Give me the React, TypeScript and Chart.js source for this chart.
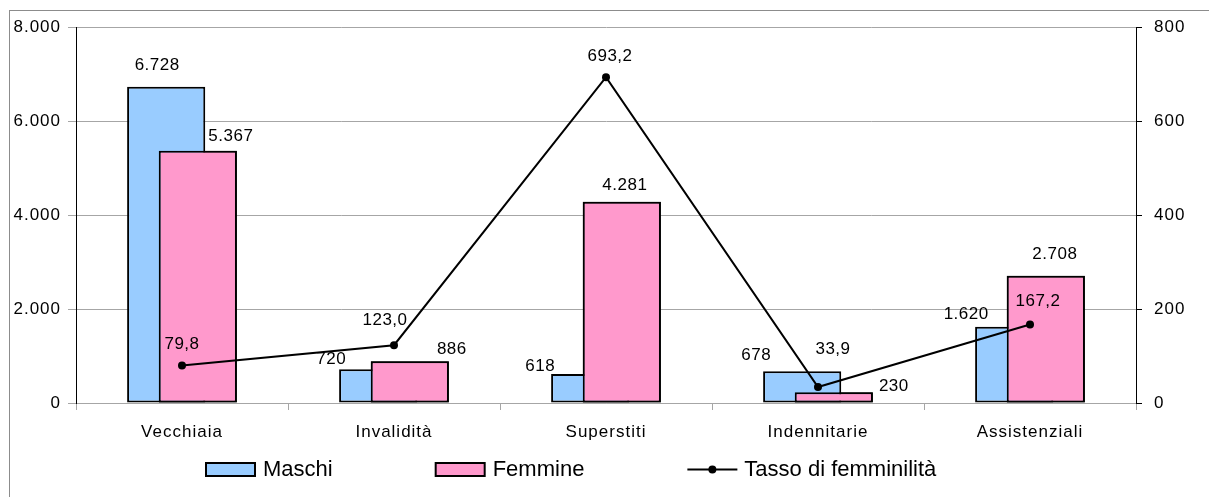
import React, { useEffect, useRef } from 'react';
import { Chart, registerables } from 'chart.js';

Chart.register(...registerables);

// ---- Data ----
const categories = ['Vecchiaia', 'Invalidità', 'Superstiti', 'Indennitarie', 'Assistenziali'];
const maschi = [6728, 720, 618, 678, 1620];
const femmine = [5367, 886, 4281, 230, 2708];
const tasso = [79.8, 123.0, 693.2, 33.9, 167.2];
const seriesNames = ['Maschi', 'Femmine', 'Tasso di femminilità'];

// ---- Label placement (style: pixel offsets of label centre from bar top / point) ----
const maschiLabelOffsets = [[-9, -21], [-47, -10], [-50, -8], [-46, -16], [-48, -13]];
const femmineLabelOffsets = [[33, -14], [42, -12], [3, -16], [60, -6], [9, -21]];
const tassoLabelOffsets = [[0, -21], [-9, -25], [4, -21], [15, -38], [8, -23]];

const FONT = '"Liberation Sans", Arial, sans-serif';
const BLUE = '#99ccff';
const PINK = '#ff99cc';
const GRID = '#a6a6a6';

const fmtThousands = (v: number) => String(Math.round(v)).replace(/\B(?=(\d{3})+(?!\d))/g, '.');
const fmtDecimal = (v: number) => v.toFixed(1).replace('.', ',');

const customPlugin = {
  id: 'custom',
  beforeDraw(chart: any) {
    const ctx = chart.ctx;
    ctx.save();
    ctx.fillStyle = '#ffffff';
    ctx.fillRect(0, 0, chart.width, chart.height);
    ctx.strokeStyle = '#8c8c8c';
    ctx.lineWidth = 1;
    ctx.strokeRect(9.5, 10.5, chart.width + 50, chart.height + 50);
    ctx.restore();
    (ctx as any).letterSpacing = '1px';
  },
  afterDatasetDraw(chart: any, args: any) {
    if (args.index === 0) {
      const m = chart.getDatasetMeta(1);
      if (!m.hidden) m.controller.draw();
    }
  },
  afterDatasetsDraw(chart: any) {
    const ctx = chart.ctx;
    ctx.save();
    (ctx as any).letterSpacing = '0.5px';
    ctx.font = `17px ${FONT}`;
    ctx.fillStyle = '#000';
    ctx.textAlign = 'center';
    ctx.textBaseline = 'middle';
    const draw = (idx: number, texts: string[], offs: number[][]) => {
      chart.getDatasetMeta(idx).data.forEach((el: any, i: number) => {
        ctx.fillText(texts[i], el.x + offs[i][0], el.y + offs[i][1]);
      });
    };
    draw(0, maschi.map(fmtThousands), maschiLabelOffsets);
    draw(1, femmine.map(fmtThousands), femmineLabelOffsets);
    draw(2, tasso.map(fmtDecimal), tassoLabelOffsets);
    ctx.restore();
  },
  afterDraw(chart: any) {
    const ctx = chart.ctx;
    ctx.save();
    (ctx as any).letterSpacing = '0px';
    ctx.font = `22px ${FONT}`;
    ctx.fillStyle = '#000';
    ctx.textAlign = 'left';
    ctx.textBaseline = 'alphabetic';
    const baseY = 476;
    const boxW = 49, boxH = 13, gap = 8, itemGap = 103;
    let x = chart.chartArea.left + 130;
    [BLUE, PINK].forEach((c, i) => {
      ctx.fillStyle = c;
      ctx.fillRect(x, baseY - boxH, boxW, boxH);
      ctx.strokeStyle = '#000';
      ctx.lineWidth = 2;
      ctx.strokeRect(x, baseY - boxH, boxW, boxH);
      ctx.fillStyle = '#000';
      ctx.fillText(seriesNames[i], x + boxW + gap, baseY);
      x += boxW + gap + ctx.measureText(seriesNames[i]).width + itemGap;
    });
    const ly = baseY - boxH / 2;
    ctx.strokeStyle = '#000';
    ctx.lineWidth = 2;
    ctx.beginPath();
    ctx.moveTo(x, ly);
    ctx.lineTo(x + 50, ly);
    ctx.stroke();
    ctx.beginPath();
    ctx.arc(x + 25, ly, 4, 0, Math.PI * 2);
    ctx.fill();
    ctx.fillText(seriesNames[2], x + 57, baseY);
    ctx.restore();
    (ctx as any).letterSpacing = '0px';
  },
};

export default function App() {
  const ref = useRef<HTMLCanvasElement>(null);
  useEffect(() => {
    if (!ref.current) return;
    const chart = new Chart(ref.current, {
      type: 'bar',
      data: {
        labels: categories,
        datasets: [
          {
            type: 'bar',
            label: seriesNames[0],
            data: maschi,
            backgroundColor: BLUE,
            borderColor: '#000',
            borderWidth: 2,
            borderSkipped: false,
            yAxisID: 'y',
            order: 1,
          } as any,
          {
            type: 'bar',
            label: seriesNames[1],
            data: femmine,
            backgroundColor: PINK,
            borderColor: '#000',
            borderWidth: 2,
            borderSkipped: false,
            yAxisID: 'y',
            order: 2,
          } as any,
          {
            type: 'line',
            label: seriesNames[2],
            data: tasso,
            borderColor: '#000',
            backgroundColor: '#000',
            borderWidth: 2,
            pointRadius: 4,
            pointBackgroundColor: '#000',
            pointBorderWidth: 0,
            tension: 0,
            yAxisID: 'y2',
            order: 0,
          } as any,
        ],
      },
      options: {
        responsive: false,
        animation: false,
        devicePixelRatio: 1,
        datasets: { bar: { barPercentage: 2.47, categoryPercentage: 0.2985 } } as any,
        layout: { padding: { top: 27, left: 0, right: 0, bottom: 54 } },
        plugins: { legend: { display: false }, tooltip: { enabled: false }, title: { display: false } },
        scales: {
          x: {
            offset: true,
            grid: { offset: true, drawOnChartArea: false, drawTicks: true, tickLength: 7, color: GRID },
            border: { color: GRID },
            ticks: { font: { family: FONT, size: 17 }, color: '#000', padding: 12, autoSkip: false, maxRotation: 0 },
            afterFit: (s: any) => { s.height = 40; },
          },
          y: {
            position: 'left',
            min: 0,
            max: 8000,
            ticks: { stepSize: 2000, callback: (v: any) => fmtThousands(Number(v)), font: { family: FONT, size: 17 }, color: '#000', padding: 7 },
            grid: { color: GRID, drawTicks: true, tickLength: 8 },
            border: { color: '#000' },
            afterFit: (s: any) => { s.width = 76; },
          },
          y2: {
            position: 'right',
            min: 0,
            max: 800,
            ticks: { stepSize: 200, font: { family: FONT, size: 17 }, color: '#000', padding: 12 },
            grid: { drawOnChartArea: false, drawTicks: true, tickLength: 6, color: '#000' },
            border: { color: '#000' },
            afterFit: (s: any) => { s.width = 73; },
          },
        },
      } as any,
      plugins: [customPlugin],
    });
    return () => chart.destroy();
  }, []);
  return (
    <div style={{ position: 'fixed', left: 0, top: 0, width: 1209, height: 497, overflow: 'hidden', background: '#fff' }}>
      <canvas ref={ref} width={1209} height={497} style={{ display: 'block' }} />
    </div>
  );
}
